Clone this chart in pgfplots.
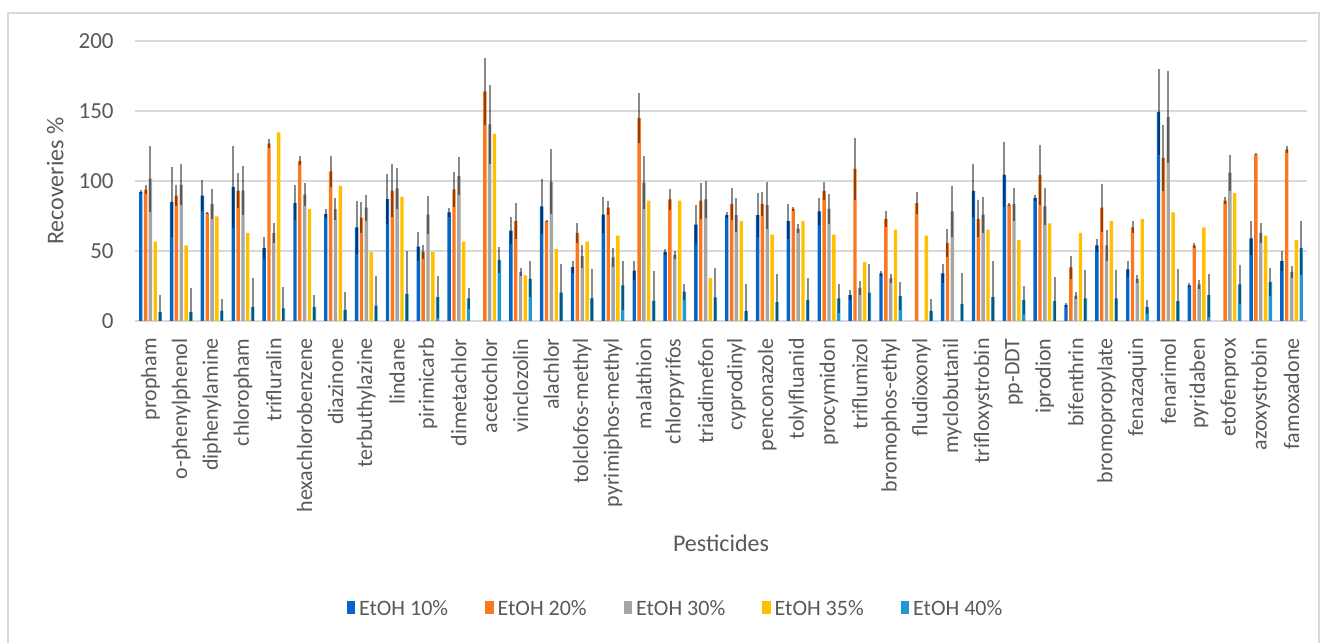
\documentclass[border=0pt]{standalone}
\usepackage{pgfplots}
\pgfplotsset{compat=1.18}
\usepackage{pgfplotstable}
\usepackage{fontspec}
\setmainfont{Carlito}
\definecolor{cA}{RGB}{5,102,200}
\definecolor{cB}{RGB}{250,120,30}
\definecolor{cC}{RGB}{165,165,165}
\definecolor{cD}{RGB}{255,192,0}
\definecolor{cE}{RGB}{32,152,214}
\definecolor{gridc}{RGB}{217,217,217}
\definecolor{txt}{RGB}{89,89,89}

\pgfplotstableread{
x y e
0 92.2 1.5
1 85.1 25
2 89.6 11
3 95.7 29
4 52.2 7.6
5 84.4 12.5
6 76.6 3.3
7 66.9 18.9
8 87 17.7
9 53.2 10.2
10 77.5 3.1
12 64.5 9.5
13 81.8 19.9
14 38.5 4.3
15 75.9 12.8
16 35.9 6.6
17 49.2 1.9
18 68.8 13.7
19 75.7 2.4
20 75.7 15.4
21 71.4 12.5
22 78.3 9.9
23 18.4 3.5
24 34 1.7
26 34 6.9
27 92.9 18.9
28 104.3 23.2
29 87.9 2.4
30 11.6 1.4
31 54.1 4.5
32 36.9 5.7
33 149.4 30.5
34 25.5 1.4
36 59.1 12
37 42.8 6.9
}\tA
\pgfplotstableread{
x y e
0 93.9 3
1 89.6 7.5
2 77.1 1
3 93.1 12.7
4 126.7 3.3
5 114.4 3.3
6 106.9 10.9
7 73.8 10.9
8 93.1 18.7
9 49.2 5.2
10 94.1 12.5
11 164 24.1
12 71.4 13
13 71.4 1
14 62.9 6.9
15 80.9 5
16 144.9 18
17 86.8 7.8
18 86 12.8
19 83.7 11.6
20 83.7 8.7
21 80.1 1.4
22 92.9 6.6
23 108.7 22
24 73 5.7
25 84.2 7.6
26 55.8 10.2
27 73 13.2
28 83.2 1
29 104.3 21.3
30 38.3 8.3
31 80.9 17.3
32 66.9 4.3
33 116.5 23.6
34 54.1 1.7
35 86 2.6
36 119.1 0.8
37 122.5 2.4
}\tB
\pgfplotstableread{
x y e
0 101.7 23.6
1 97.2 14.7
2 83.5 11
3 93.1 17.7
4 62.9 7.3
5 90.5 8.3
6 79.9 7.6
7 80.9 9.2
8 94.8 14.7
9 75.9 13.5
10 103.5 13.5
11 140.4 28.1
12 35 3
13 99.3 23.2
14 46.3 8.3
15 45.4 6.6
16 98.8 18.9
17 47.3 3
18 86.8 13.2
19 75.7 11.8
20 82.7 16.8
21 66 3.3
22 80.1 10.9
23 23.6 5
24 30.5 3.3
26 78.3 18.2
27 75.9 12.8
28 83.5 11.8
29 81.8 13.5
30 18.2 2.6
31 54.1 10.9
32 30 3.1
33 145.6 32.9
34 26.2 3.3
35 105.9 13
36 62.9 6.9
37 35 4.3
}\tC
\pgfplotstableread{
x y
0 56.7
1 54.1
2 74.7
3 62.9
4 134.8
5 79.9
6 96.5
7 49.2
8 88.9
9 49.2
10 56.7
11 133.8
12 32.6
13 51.5
14 56.7
15 61
16 86
17 86
18 30.7
19 71.4
20 61.7
21 71.4
22 61.7
23 42.1
24 65.2
25 61
27 65.2
28 57.7
29 69.7
30 62.9
31 71.4
32 73
33 77.5
34 66.9
35 91.3
36 61
37 57.7
}\tD
\pgfplotstableread{
x y e
0 6.4 12
1 6.4 17
2 7.3 8.5
3 9.9 20.6
4 9 15.4
5 9.9 9
6 8 12.8
7 10.9 21
8 19.4 30.3
9 17 15.1
10 16.1 7.5
11 43.7 9.5
12 30 13.2
13 20.3 20.6
14 16.1 21.3
15 25.5 17.3
16 14.4 21.3
17 21 5.7
18 16.8 21.3
19 7.1 19.6
20 13.5 20.3
21 15.1 15.8
22 16.1 10.6
23 20.3 20.6
24 17.7 10.2
25 7.1 8.7
26 12.3 22.2
27 17 25.5
28 15.1 9.9
29 14.2 17
30 16.1 20.6
31 16.1 20.6
32 9.9 5
33 14.2 23.2
34 18.4 15.4
35 26.2 14
36 27.9 10.2
37 52.2 19.4
}\tE

\begin{document}
\begin{tikzpicture}
\useasboundingbox (0pt,0pt) rectangle (662.5pt,321pt);
\draw[gridc, line width=1pt] (4pt,-2pt) -- (4pt,314.5pt) -- (659.5pt,314.5pt) -- (659.5pt,-2pt);
\begin{axis}[
  at={(67.5pt,160.5pt)}, anchor=south west,
  scale only axis, width=586pt, height=140pt,
  xmin=-0.5, xmax=37.5, ymin=0, ymax=200,
  ytick={0,50,100,150,200},
  xtick={0,...,37},
  xticklabels={propham,o-phenylphenol,diphenylamine,chloropham,trifluralin,hexachlorobenzene,diazinone,terbuthylazine,lindane,pirimicarb,dimetachlor,acetochlor,vinclozolin,alachlor,tolclofos-methyl,pyrimiphos-methyl,malathion,chlorpyrifos,triadimefon,cyprodinyl,penconazole,tolylfluanid,procymidon,triflumizol,bromophos-ethyl,fludioxonyl,myclobutanil,trifloxystrobin,pp-DDT,iprodion,bifenthrin,bromopropylate,fenazaquin,fenarimol,pyridaben,etofenprox,azoxystrobin,famoxadone},
  axis x line*=bottom, axis y line*=left,
  x axis line style={draw=gridc, line width=1pt, -},
  y axis line style={draw=none},
  major tick length=0pt,
  ymajorgrids, grid style={draw=gridc, line width=1pt},
  tick label style={font=\fontsize{11}{13}\selectfont, text=txt},
  yticklabel style={font=\fontsize{11.5}{13}\selectfont},
  /pgf/number format/assume math mode=true,
  xticklabel style={inner sep=0pt, yshift=-8.5pt, rotate=90, anchor=east},
  yticklabel style={inner sep=0pt, xshift=-10.5pt, anchor=east},
  ylabel={Recoveries \%},
  xlabel={Pesticides},
  every axis y label/.style={at={(axis description cs:-0.068,0.5)}, rotate=90, anchor=center, font=\fontsize{12}{14}\selectfont, text=txt},
  every axis x label/.style={at={(axis description cs:0.5,-0.793)}, anchor=center, font=\fontsize{12}{14}\selectfont, text=txt},
  ybar=0.72pt, bar width=1.7pt,
  legend columns=5,
  legend style={at={(axis description cs:0.462,-1.0286)}, anchor=center, draw=none, fill=none,
    font=\fontsize{11}{13}\selectfont, text=txt,
    /tikz/every even column/.append style={column sep=16.5pt}},
  legend image code/.code={\fill[#1] (0pt,-2.3pt) rectangle (4.2pt,4.2pt);},
  error bars/error mark=none,
  error bars/error bar style={line width=1pt, draw=black, opacity=0.45},
]
\addplot[fill=cA, draw=none, error bars/.cd, y dir=both, y explicit] table[x=x, y=y, y error=e]{\tA};
\addlegendentry{EtOH 10\%}
\addplot[fill=cB, draw=none, error bars/.cd, y dir=both, y explicit] table[x=x, y=y, y error=e]{\tB};
\addlegendentry{EtOH 20\%}
\addplot[fill=cC, draw=none, error bars/.cd, y dir=both, y explicit] table[x=x, y=y, y error=e]{\tC};
\addlegendentry{EtOH 30\%}
\addplot[fill=cD, draw=none] table[x=x, y=y]{\tD};
\addlegendentry{EtOH 35\%}
\addplot[fill=cE, draw=none, error bars/.cd, y dir=both, y explicit] table[x=x, y=y, y error=e]{\tE};
\addlegendentry{EtOH 40\%}
\end{axis}
\end{tikzpicture}
\end{document}
